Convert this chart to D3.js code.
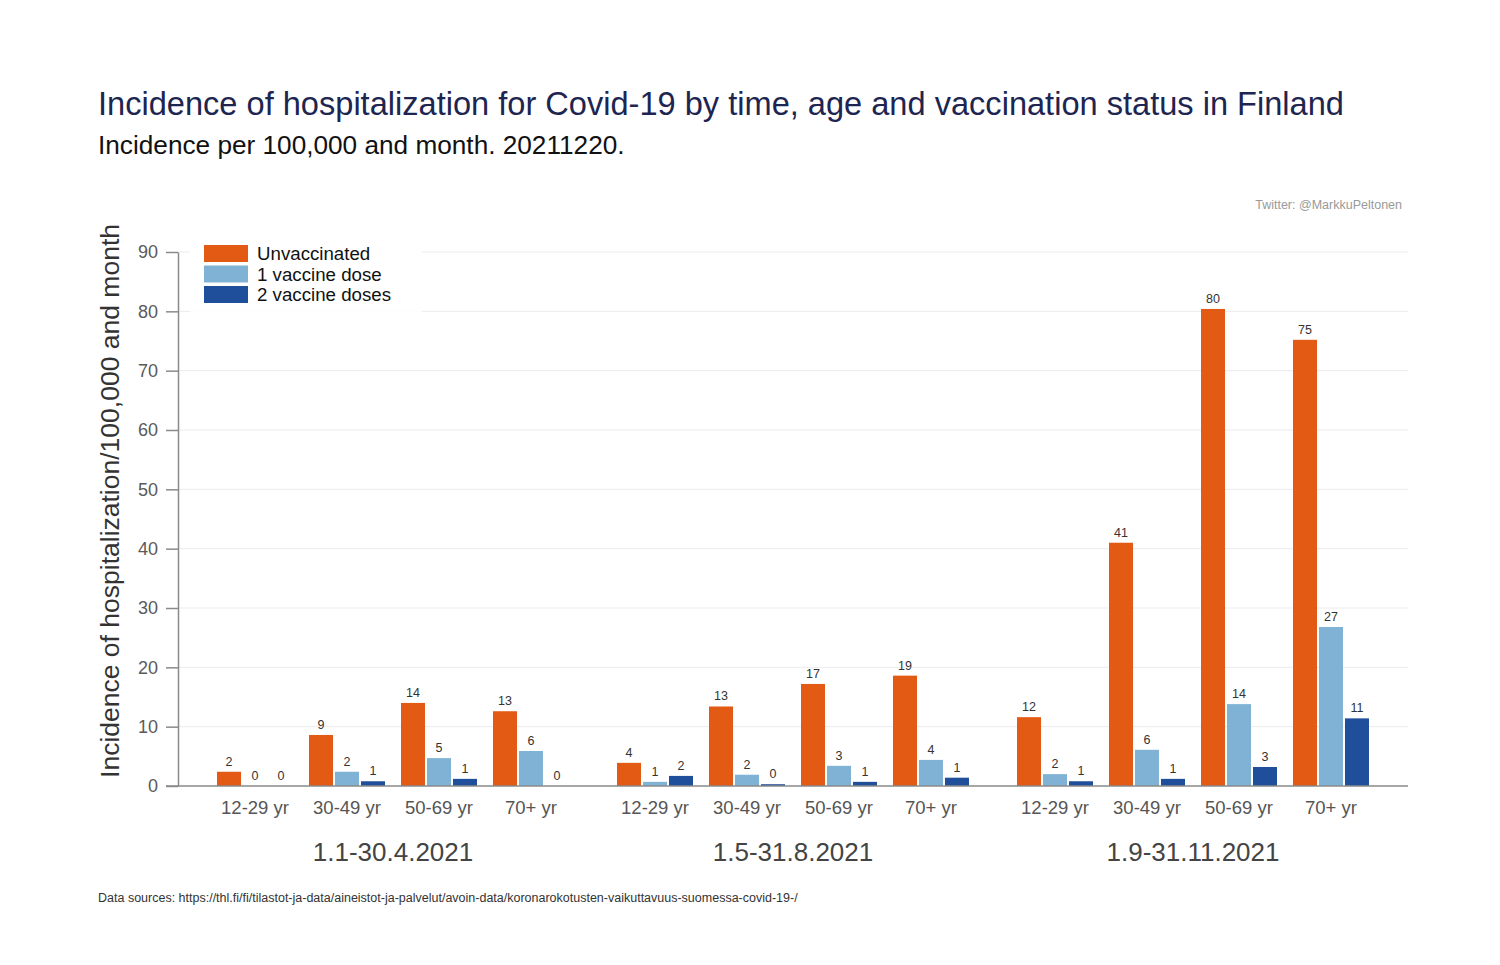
<!DOCTYPE html>
<html>
<head>
<meta charset="utf-8">
<script src="https://cdn.jsdelivr.net/npm/d3@7"></script>
<style>
  body { margin: 0; background: #fff; }
  svg { font-family: "Liberation Sans", Arial, Helvetica, sans-serif; }
</style>
</head>
<body>
<svg width="1500" height="965"></svg>
<script>
var periods = ["1.1-30.4.2021", "1.5-31.8.2021", "1.9-31.11.2021"];
var ages = ["12-29 yr", "30-49 yr", "50-69 yr", "70+ yr"];
var statuses = ["Unvaccinated", "1 vaccine dose", "2 vaccine doses"];
var colors = ["#e25a13", "#80b2d6", "#1f4e9b"];

// values per period, rows = age groups, columns = status
var p1 = [[2.4, 0, 0], [8.6, 2.4, 0.8], [14.0, 4.7, 1.2], [12.6, 5.9, 0]];
var p2 = [[3.9, 0.7, 1.7], [13.4, 1.9, 0.3], [17.2, 3.4, 0.7], [18.6, 4.4, 1.4]];
var p3 = [[11.6, 2.0, 0.8], [41.0, 6.1, 1.2], [80.4, 13.8, 3.2], [75.2, 26.8, 11.4]];
var yTicks = [0, 10, 20, 30, 40, 50, 60, 70, 80, 90];

var data = [];
[p1, p2, p3].forEach(function(p, i) {
  p.forEach(function(row, j) {
    row.forEach(function(v, k) {
      data.push({period: periods[i], age: ages[j], status: statuses[k], value: v});
    });
  });
});

var svg = d3.select("svg");

var x0 = d3.scaleBand().domain(periods).range([193, 1393]);
var x1 = d3.scaleBand().domain(ages).range([0, x0.bandwidth()])
    .paddingInner(16 / 92).paddingOuter(0.261);
var x2 = d3.scaleBand().domain(statuses).range([0, x1.bandwidth()])
    .paddingInner(2 / 26);
var y = d3.scaleLinear().domain([0, 90]).range([786, 252]);
var z = d3.scaleOrdinal().domain(statuses).range(colors);

// titles
svg.append("text").attr("x", 98).attr("y", 115)
    .attr("font-size", 32.6).attr("fill", "#1d2550")
    .text("Incidence of hospitalization for Covid-19 by time, age and vaccination status in Finland");
svg.append("text").attr("x", 98).attr("y", 154)
    .attr("font-size", 26.2).attr("fill", "#111")
    .text("Incidence per 100,000 and month. 20211220.");
svg.append("text").attr("x", 1402).attr("y", 209)
    .attr("text-anchor", "end").attr("font-size", 12.5).attr("fill", "#9a9a9a")
    .text("Twitter: @MarkkuPeltonen");

// grid
svg.append("g").selectAll("line").data(yTicks.slice(1)).enter().append("line")
    .attr("x1", 178).attr("x2", 1408)
    .attr("y1", function(d) { return y(d); }).attr("y2", function(d) { return y(d); })
    .attr("stroke", "#ebebeb").attr("stroke-width", 1);

// y axis
var yAxis = svg.append("g").attr("transform", "translate(178,0)")
    .call(d3.axisLeft(y).tickValues(yTicks).tickSize(12).tickPadding(8).tickSizeOuter(0));
yAxis.select(".domain").attr("stroke", "#8a8a8a").attr("stroke-width", 1.5);
yAxis.selectAll(".tick line").attr("stroke", "#8a8a8a").attr("stroke-width", 1.5);
yAxis.selectAll(".tick text").attr("font-size", 18).attr("fill", "#5a5a5a")
    .attr("font-family", "Liberation Sans, Arial, sans-serif");

svg.append("text")
    .attr("transform", "translate(119,501) rotate(-90)")
    .attr("text-anchor", "middle").attr("font-size", 26.5).attr("fill", "#333")
    .text("Incidence of hospitalization/100,000 and month");

// bars
var bars = svg.append("g");
bars.selectAll("rect").data(data).enter().append("rect")
    .attr("x", function(d) { return x0(d.period) + x1(d.age) + x2(d.status); })
    .attr("y", function(d) { return y(d.value); })
    .attr("width", x2.bandwidth())
    .attr("height", function(d) { return y(0) - y(d.value); })
    .attr("fill", function(d) { return z(d.status); });

bars.selectAll("text").data(data).enter().append("text")
    .attr("x", function(d) { return x0(d.period) + x1(d.age) + x2(d.status) + x2.bandwidth() / 2; })
    .attr("y", function(d) { return y(d.value) - 6; })
    .attr("text-anchor", "middle").attr("font-size", 12.5).attr("fill", "#333")
    .text(function(d) { return Math.round(d.value); });

// x axis line
svg.append("line").attr("x1", 166).attr("x2", 1408)
    .attr("y1", y(0)).attr("y2", y(0))
    .attr("stroke", "#8a8a8a").attr("stroke-width", 1.5);

// age labels
var ageLabels = [];
periods.forEach(function(p) { ages.forEach(function(a) { ageLabels.push({period: p, age: a}); }); });
svg.append("g").selectAll("text").data(ageLabels).enter().append("text")
    .attr("x", function(d) { return x0(d.period) + x1(d.age) + x1.bandwidth() / 2; })
    .attr("y", 814)
    .attr("text-anchor", "middle").attr("font-size", 18.5).attr("fill", "#555")
    .text(function(d) { return d.age; });

// period labels
svg.append("g").selectAll("text").data(periods).enter().append("text")
    .attr("x", function(d) { return x0(d) + x0.bandwidth() / 2; })
    .attr("y", 861)
    .attr("text-anchor", "middle").attr("font-size", 26).attr("fill", "#444")
    .text(function(d) { return d; });

// legend
var legend = svg.append("g");
legend.append("rect").attr("x", 190).attr("y", 238).attr("width", 232).attr("height", 74)
    .attr("fill", "#fff").attr("fill-opacity", 0.85);
var li = legend.selectAll("g").data(statuses).enter().append("g")
    .attr("transform", function(d, i) { return "translate(204," + (245 + i * 20.5) + ")"; });
li.append("rect").attr("width", 44).attr("height", 17).attr("fill", z);
li.append("text").attr("x", 53).attr("y", 15).attr("font-size", 18.7).attr("fill", "#111")
    .text(function(d) { return d; });

// source
svg.append("text").attr("x", 98).attr("y", 902)
    .attr("font-size", 12.5).attr("fill", "#333")
    .text("Data sources: https://thl.fi/fi/tilastot-ja-data/aineistot-ja-palvelut/avoin-data/koronarokotusten-vaikuttavuus-suomessa-covid-19-/");
</script>
</body>
</html>
